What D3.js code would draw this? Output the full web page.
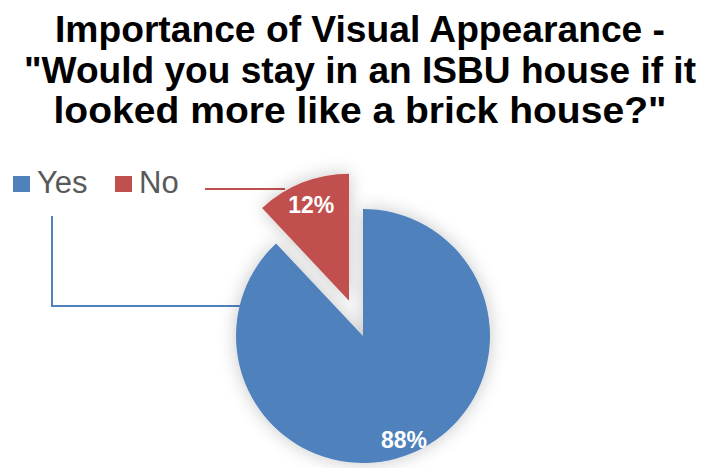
<!DOCTYPE html>
<html>
<head>
<meta charset="utf-8">
<script src="https://cdn.jsdelivr.net/npm/d3@7"></script>
<style>
  html, body { margin: 0; padding: 0; background: #fff; }
  svg { display: block; font-family: Arial, "Liberation Sans", sans-serif; }
</style>
</head>
<body>
<svg id="chart" width="703" height="468"></svg>
<script>
// Survey answers and their shares (percent)
const categories = ["Yes", "No"];
const values = [88, 12];
const colors = ["#4F81BD", "#C0504D"];
const titleLines = [
  "Importance of Visual Appearance -",
  "\"Would you stay in an ISBU house if it",
  "looked more like a brick house?\""
];
const titleWidths = [610, 672, 613];

const svg = d3.select("#chart");

// Soft grey glow around the slices
const defs = svg.append("defs");
const glow = defs.append("filter").attr("id", "glow")
  .attr("x", "-30%").attr("y", "-30%").attr("width", "160%").attr("height", "160%");
glow.append("feGaussianBlur").attr("in", "SourceAlpha").attr("stdDeviation", 9).attr("result", "b");
glow.append("feFlood").attr("flood-color", "#000").attr("flood-opacity", 0.22).attr("result", "c");
glow.append("feComposite").attr("in", "c").attr("in2", "b").attr("operator", "in").attr("result", "s");
const m = glow.append("feMerge");
m.append("feMergeNode").attr("in", "s");
m.append("feMergeNode").attr("in", "SourceGraphic");

// Title
svg.append("g").selectAll("text").data(titleLines).join("text")
  .attr("x", 360).attr("y", (d, i) => 42 + i * 40.5)
  .attr("text-anchor", "middle")
  .attr("font-size", 37).attr("font-weight", "bold").attr("fill", "#000")
  .attr("textLength", (d, i) => titleWidths[i])
  .attr("lengthAdjust", "spacingAndGlyphs")
  .text(d => d);

// Pie geometry
const cx = 363, cy = 336, r = 127, explode = 38;
const pie = d3.pie().sort(null).value(d => d);
const arcs = pie(values);
const arc = d3.arc().innerRadius(0).outerRadius(r);

function offset(a, dist) {
  const mid = (a.startAngle + a.endAngle) / 2;
  return [Math.sin(mid) * dist, -Math.cos(mid) * dist];
}

// Leader lines from legend area to slices
const gLines = svg.append("g");
gLines.append("polyline")
  .attr("points", "52,216 52,306 250,306")
  .attr("fill", "none").attr("stroke", colors[0]).attr("stroke-width", 2);
gLines.append("polyline")
  .attr("points", "205,189 285,189")
  .attr("fill", "none").attr("stroke", colors[1]).attr("stroke-width", 2);

const gPie = svg.append("g").attr("transform", `translate(${cx},${cy})`);
const slices = gPie.selectAll("g.slice").data(arcs).join("g")
  .attr("class", "slice")
  .attr("transform", (d, i) => {
    const [dx, dy] = i === 1 ? offset(d, explode) : [0, 0];
    return `translate(${dx},${dy})`;
  });
slices.append("path")
  .attr("d", arc)
  .attr("fill", (d, i) => colors[i])
  .attr("filter", "url(#glow)");

// Percentage labels, placed along each slice's mid-angle
const labelRadius = [0.875, 0.81];
slices.append("text")
  .attr("transform", (d, i) => {
    const [x, y] = offset(d, r * labelRadius[i]);
    return `translate(${x},${y})`;
  })
  .attr("text-anchor", "middle").attr("dy", "0.36em")
  .attr("font-size", 23).attr("font-weight", "bold").attr("fill", "#fff")
  .text(d => d.data + "%");

// Legend
const legend = svg.append("g");
const legendX = [13, 115];
categories.forEach((c, i) => {
  legend.append("rect").attr("x", legendX[i]).attr("y", 176)
    .attr("width", 17).attr("height", 16).attr("fill", colors[i]);
  legend.append("text").attr("x", legendX[i] + 24).attr("y", 193)
    .attr("font-size", 31).attr("fill", "#595959").text(c);
});
</script>
</body>
</html>
